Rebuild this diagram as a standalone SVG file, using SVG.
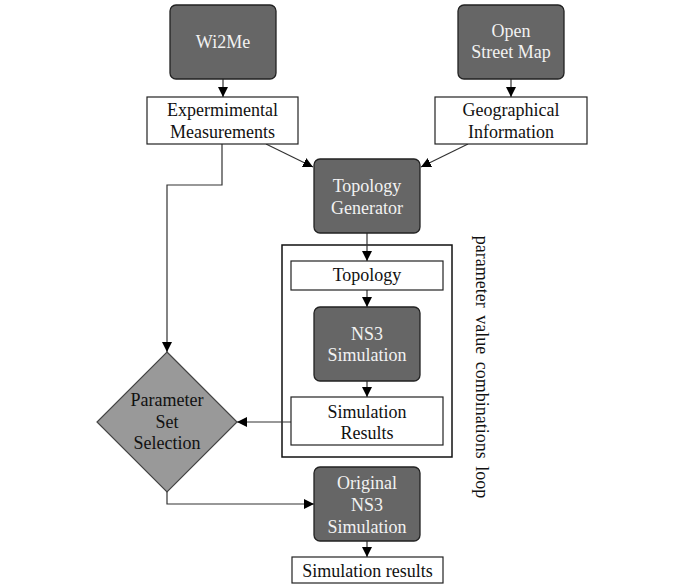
<svg xmlns="http://www.w3.org/2000/svg" width="696" height="586" viewBox="0 0 696 586">
<style>
.dark{fill:#666;stroke:#222;stroke-width:1.3}
.white{fill:#fff;stroke:#222;stroke-width:1.2}
.diam{fill:#999;stroke:#444;stroke-width:1.2}
.loop{fill:none;stroke:#111;stroke-width:1.5}
text{font-family:"Liberation Serif","Times New Roman",serif;font-size:18px;text-anchor:middle}
.lt{fill:#f2f2f2}
.bt{fill:#111}
.conn{fill:none;stroke:#333;stroke-width:1.2}
</style>
<defs>
<marker id="ah" viewBox="0 0 10 10" refX="10" refY="5" markerWidth="10" markerHeight="10" markerUnits="userSpaceOnUse" orient="auto">
<path d="M0,0 L10,5 L0,10 z" fill="#000"/>
</marker>
</defs>
<rect class="white" x="0" y="0" width="696" height="586" style="stroke:none"/>
<g id="loopbox"><rect class="loop" x="282" y="245" width="170" height="212"/>
<text class="bt" transform="translate(476,367) rotate(90)" style="word-spacing:3px">parameter value combinations loop</text></g>
<g id="connectors">
<line class="conn" x1="223" y1="79" x2="223" y2="97" marker-end="url(#ah)"/>
<line class="conn" x1="511" y1="79" x2="511" y2="97" marker-end="url(#ah)"/>
<line class="conn" x1="266" y1="144" x2="313" y2="167" marker-end="url(#ah)"/>
<line class="conn" x1="468" y1="144" x2="421" y2="167" marker-end="url(#ah)"/>
<polyline class="conn" points="222,144 222,185 167,185 167,352" marker-end="url(#ah)"/>
<line class="conn" x1="367" y1="233" x2="367" y2="261" marker-end="url(#ah)"/>
<line class="conn" x1="367" y1="290" x2="367" y2="307" marker-end="url(#ah)"/>
<line class="conn" x1="367" y1="381" x2="367" y2="397" marker-end="url(#ah)"/>
<line class="conn" x1="291" y1="422" x2="237" y2="422" marker-end="url(#ah)"/>
<polyline class="conn" points="167,492 167,504 314,504" marker-end="url(#ah)"/>
<line class="conn" x1="367" y1="541" x2="367" y2="557" marker-end="url(#ah)"/>
</g>
<g id="wi2me"><rect class="dark" x="170" y="5" width="106" height="74" rx="6"/>
<text class="lt" x="223" y="48">Wi2Me</text></g>
<g id="osm"><rect class="dark" x="458" y="5" width="106" height="74" rx="6"/>
<text class="lt" x="511" y="37">Open</text><text class="lt" x="511" y="58">Street Map</text></g>
<g id="exp"><rect class="white" x="147" y="97" width="151" height="47"/>
<text class="bt" x="222.5" y="116">Expermimental</text><text class="bt" x="222.5" y="138">Measurements</text></g>
<g id="geo"><rect class="white" x="435" y="97" width="152" height="47"/>
<text class="bt" x="511" y="116">Geographical</text><text class="bt" x="511" y="138">Information</text></g>
<g id="topogen"><rect class="dark" x="314" y="159" width="106" height="74" rx="6"/>
<text class="lt" x="367" y="192">Topology</text><text class="lt" x="367" y="214">Generator</text></g>
<g id="topology"><rect class="white" x="291" y="261" width="152" height="29"/>
<text class="bt" x="367" y="281">Topology</text></g>
<g id="ns3"><rect class="dark" x="314" y="307" width="106" height="74" rx="6"/>
<text class="lt" x="367" y="340">NS3</text><text class="lt" x="367" y="361">Simulation</text></g>
<g id="simres"><rect class="white" x="291" y="397" width="152" height="48"/>
<text class="bt" x="367" y="418">Simulation</text><text class="bt" x="367" y="439">Results</text></g>
<g id="paramsel"><polygon class="diam" points="167,352 237,422 167,492 97,422"/>
<text class="bt" x="167" y="406">Parameter</text><text class="bt" x="167" y="428">Set</text><text class="bt" x="167" y="449">Selection</text></g>
<g id="origns3"><rect class="dark" x="314" y="467" width="106" height="74" rx="6"/>
<text class="lt" x="367" y="489">Original</text><text class="lt" x="367" y="511">NS3</text><text class="lt" x="367" y="533">Simulation</text></g>
<g id="simresults"><rect class="white" x="292" y="557" width="151" height="26"/>
<text class="bt" x="367.5" y="577">Simulation results</text></g>
</svg>
